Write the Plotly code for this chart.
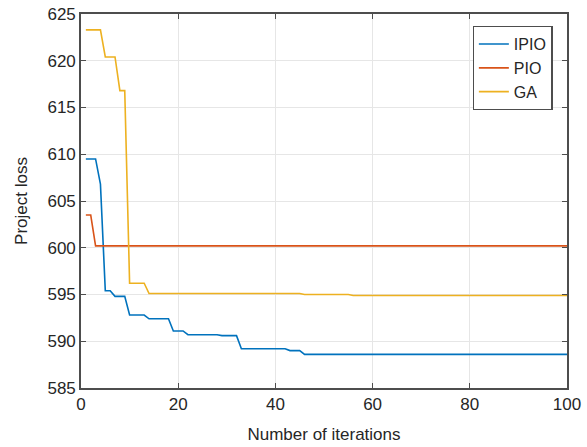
import plotly.graph_objects as go

iterations = list(range(1, 101))

ipio = ([609.5] * 3 + [606.8] + [595.4] * 2 + [594.8] * 3 + [592.8] * 4 + [592.4] * 5
        + [591.1] * 3 + [590.7] * 7 + [590.6] * 4 + [589.2] * 10 + [589.0] * 3 + [588.6] * 55)
pio = [603.5] * 2 + [600.2] * 98
ga = ([623.3] * 4 + [620.4] * 3 + [616.8] * 2 + [596.2] * 4 + [595.1] * 32
      + [595.0] * 10 + [594.9] * 45)

series_names = ["IPIO", "PIO", "GA"]
series_values = [ipio, pio, ga]
colors = ["#0072BD", "#D95319", "#EDB120"]

x_ticks = [0, 20, 40, 60, 80, 100]
y_ticks = [585, 590, 595, 600, 605, 610, 615, 620, 625]

fig = go.Figure()
for name, vals, c in zip(series_names, series_values, colors):
    fig.add_trace(go.Scatter(x=iterations, y=vals, mode="lines", name=name,
                             line=dict(color=c, width=1.6)))

axis_common = dict(showline=True, linecolor="#4d4d4d", linewidth=1.6, mirror="allticks",
                   ticks="inside", ticklen=5, tickcolor="#4d4d4d", tickwidth=1.3,
                   showgrid=True, gridcolor="#e6e6e6", gridwidth=1.3, zeroline=False,
                   automargin=False,
                   tickfont=dict(size=17, color="#262626"))

fig.update_layout(
    width=587, height=447,
    margin=dict(l=81, r=20, t=14, b=59),
    paper_bgcolor="white", plot_bgcolor="white",
    font=dict(family="Liberation Sans, Arial, sans-serif", size=17, color="#262626"),
    xaxis=dict(range=[0, 100], tickvals=x_ticks,
               title=dict(text="Number of iterations", font=dict(size=17)),
               **axis_common),
    yaxis=dict(range=[585, 625], tickvals=y_ticks,
               title=dict(text="Project loss", font=dict(size=17)),
               **axis_common),
    legend=dict(x=0.9705, y=0.968, xanchor="right", yanchor="top",
                bgcolor="white", bordercolor="#4d4d4d", borderwidth=1.2,
                font=dict(size=16, color="#262626"), tracegroupgap=0,
                itemwidth=30),
    showlegend=True,
)

fig.write_html("out.html", config={"displayModeBar": False},
               post_script="document.body.style.margin='0';document.body.style.overflow='hidden';")
